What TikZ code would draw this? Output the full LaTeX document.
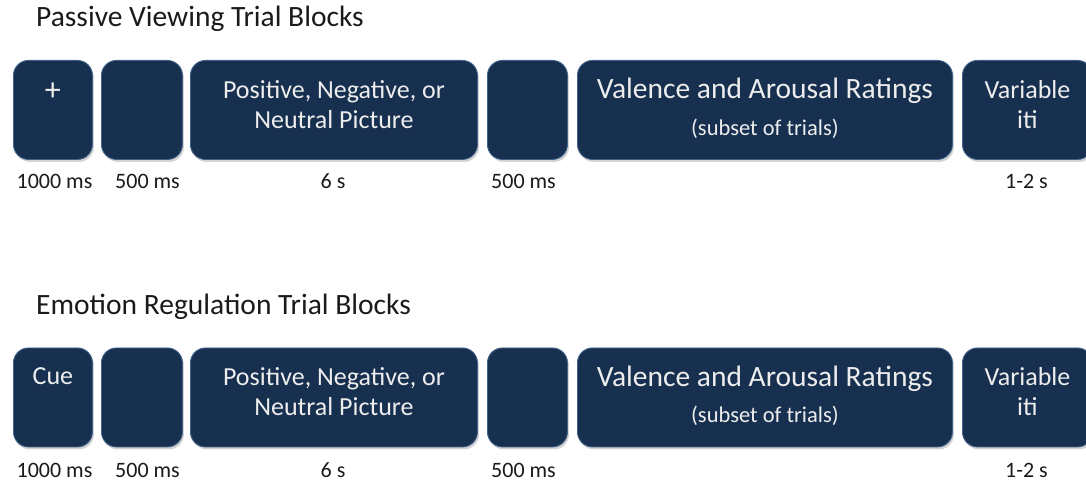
\documentclass[tikz,border=0pt]{standalone}
\usepackage{fontspec}
\setmainfont{Carlito}
\usetikzlibrary{shadows}
\definecolor{boxfill}{HTML}{17304F}
\definecolor{boxedge}{HTML}{40618A}
\definecolor{boxtext}{HTML}{EDEDED}
\definecolor{labeltext}{HTML}{1A1A1A}
\tikzset{
  trialbox/.style={draw=boxedge, line width=0.9pt, fill=boxfill, rounded corners=15pt,
    inner sep=0pt, anchor=north west,
    drop shadow={opacity=0.35, shadow xshift=1.5pt, shadow yshift=-2.5pt}},
  boxlabel/.style={text=boxtext, align=center, inner sep=0pt, anchor=north},
  timelabel/.style={text=labeltext, anchor=base, inner sep=0pt, font=\fontsize{22}{26}\selectfont},
  blocktitle/.style={text=labeltext, anchor=base west, inner sep=0pt, font=\fontsize{29.5}{34}\selectfont},
  bigtxt/.style={font=\fontsize{26}{30}\selectfont},
}
\begin{document}
\begin{tikzpicture}[x=1pt,y=-1pt]
\useasboundingbox (0,0) rectangle (1086,484);
% ---------- Row 1 ----------
\node[blocktitle] (t1) at (36,27) {Passive Viewing Trial Blocks};
\node[trialbox, minimum width=79pt, minimum height=99pt] (a1) at (13,60) {};
\node[trialbox, minimum width=81pt, minimum height=99pt] (a2) at (101,60) {};
\node[trialbox, minimum width=287pt, minimum height=99pt] (a3) at (190,60) {};
\node[trialbox, minimum width=80pt, minimum height=99pt] (a4) at (487,60) {};
\node[trialbox, minimum width=375pt, minimum height=99pt] (a5) at (577,60) {};
\node[trialbox, minimum width=130pt, minimum height=99pt] (a6) at (962,60) {};
\node[text=boxtext, inner sep=0pt, font=\fontsize{32}{36}\selectfont] (a1t) at ([yshift=-32pt]a1.north) {+};
\node[boxlabel, bigtxt] (a3t) at ([yshift=-20pt]a3.north) {Positive, Negative, or\\Neutral Picture};
\node[boxlabel] (a5t) at ([yshift=-18pt]a5.north) {{\fontsize{29.5}{34}\selectfont Valence and Arousal Ratings}\\[14pt]{\fontsize{22.5}{26}\selectfont (subset of trials)}};
\node[boxlabel, bigtxt] (a6t) at ([yshift=-20pt]a6.north) {Variable\\iti};
\node[timelabel] (a1l) at (54.5,188) {1000 ms};
\node[timelabel] (a2l) at (147.5,188) {500 ms};
\node[timelabel] (a3l) at (333,188) {6 s};
\node[timelabel] (a4l) at (523.5,188) {500 ms};
\node[timelabel] (a6l) at (1026.5,188) {1-2 s};
% ---------- Row 2 ----------
\node[blocktitle] (t2) at (36,314) {Emotion Regulation Trial Blocks};
\node[trialbox, minimum width=79pt, minimum height=99pt] (b1) at (13,347.5) {};
\node[trialbox, minimum width=81pt, minimum height=99pt] (b2) at (101,347.5) {};
\node[trialbox, minimum width=287pt, minimum height=99pt] (b3) at (190,347.5) {};
\node[trialbox, minimum width=80pt, minimum height=99pt] (b4) at (487,347.5) {};
\node[trialbox, minimum width=375pt, minimum height=99pt] (b5) at (577,347.5) {};
\node[trialbox, minimum width=130pt, minimum height=99pt] (b6) at (962,347.5) {};
\node[boxlabel, bigtxt] (b1t) at ([yshift=-20pt]b1.north) {Cue};
\node[boxlabel, bigtxt] (b3t) at ([yshift=-20pt]b3.north) {Positive, Negative, or\\Neutral Picture};
\node[boxlabel] (b5t) at ([yshift=-18pt]b5.north) {{\fontsize{29.5}{34}\selectfont Valence and Arousal Ratings}\\[14pt]{\fontsize{22.5}{26}\selectfont (subset of trials)}};
\node[boxlabel, bigtxt] (b6t) at ([yshift=-20pt]b6.north) {Variable\\iti};
\node[timelabel] (b1l) at (54.5,477) {1000 ms};
\node[timelabel] (b2l) at (147.5,477) {500 ms};
\node[timelabel] (b3l) at (333,477) {6 s};
\node[timelabel] (b4l) at (523.5,477) {500 ms};
\node[timelabel] (b6l) at (1026.5,477) {1-2 s};
\end{tikzpicture}
\end{document}
